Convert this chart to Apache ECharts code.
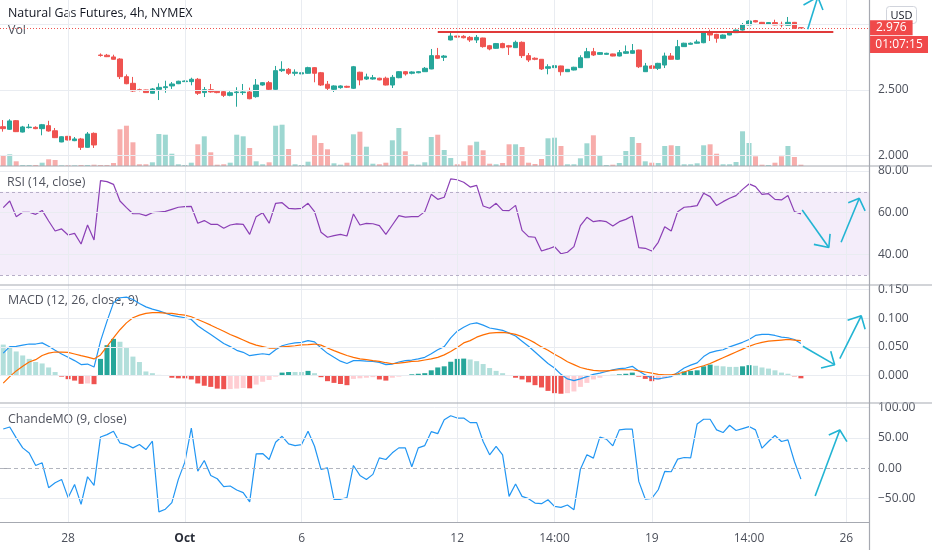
<!DOCTYPE html>
<html><head><meta charset="utf-8">
<script src="https://cdn.jsdelivr.net/npm/echarts@6/dist/echarts.min.js"></script>
<style>html,body{margin:0;padding:0;background:#fff;overflow:hidden}#c{width:932px;height:550px}</style>
</head><body><div id="c"></div><script>
// ---------- data ----------
const N = 134; // number of 4h slots on the time axis
const categories = Array.from({length: N}, (_, i) => i);
const tickIdx  = [10, 28, 46, 70, 85, 100, 115, 130];
const tickText = ['28', 'Oct', '6', '12', '14:00', '19', '14:00', '26'];

const open = [2.219,2.199,2.265,2.178,2.212,2.214,2.204,2.227,2.188,2.102,2.145,2.112,2.125,2.061,2.168,
2.768,2.766,2.753,2.737,2.602,2.551,2.502,2.500,2.475,2.505,2.518,2.531,2.548,2.564,2.564,
2.582,2.480,2.502,2.490,2.487,2.459,2.480,2.480,2.485,2.449,2.538,2.556,2.505,2.648,2.658,
2.628,2.623,2.628,2.671,2.632,2.544,2.505,2.518,2.528,2.513,2.636,2.584,2.584,2.590,2.590,
2.538,2.594,2.640,2.628,2.632,2.640,2.661,2.763,2.750,2.883,2.913,2.911,2.903,2.883,2.898,
2.839,2.819,2.855,2.839,2.824,2.865,2.763,2.743,2.735,2.666,2.671,2.684,2.640,2.653,2.671,
2.747,2.793,2.773,2.773,2.776,2.760,2.781,2.781,2.806,2.640,2.684,2.666,2.691,2.760,2.735,
2.832,2.850,2.858,2.862,2.939,2.926,2.896,2.921,2.939,2.959,2.998,3.031,3.018,3.003,3.016,
3.003,2.996,3.018,2.977];
const close = [2.204,2.263,2.181,2.217,2.216,2.204,2.234,2.186,2.135,2.142,2.117,2.125,2.061,2.163,2.079,
2.764,2.755,2.735,2.602,2.548,2.492,2.497,2.480,2.508,2.520,2.525,2.546,2.567,2.569,2.582,
2.475,2.502,2.485,2.480,2.459,2.479,2.485,2.485,2.433,2.538,2.556,2.505,2.648,2.658,2.628,
2.636,2.632,2.671,2.628,2.538,2.513,2.531,2.531,2.521,2.678,2.577,2.600,2.594,2.577,2.538,
2.597,2.640,2.623,2.638,2.640,2.666,2.763,2.743,2.760,2.913,2.905,2.900,2.883,2.903,2.832,
2.814,2.855,2.824,2.829,2.865,2.763,2.730,2.735,2.661,2.678,2.686,2.640,2.658,2.674,2.747,
2.793,2.768,2.786,2.781,2.760,2.786,2.793,2.801,2.678,2.684,2.666,2.704,2.760,2.735,2.832,
2.858,2.858,2.868,2.939,2.921,2.896,2.921,2.939,2.959,2.998,3.028,3.021,3.003,3.016,2.998,
2.998,3.018,2.972,2.976];
const high = [2.270,2.276,2.270,2.225,2.240,2.222,2.240,2.264,2.209,2.145,2.148,2.140,2.133,2.178,2.175,
2.780,2.776,2.770,2.743,2.619,2.600,2.510,2.502,2.515,2.551,2.571,2.561,2.571,2.573,2.594,
2.592,2.523,2.546,2.495,2.500,2.490,2.521,2.546,2.518,2.584,2.560,2.569,2.684,2.720,2.668,
2.658,2.640,2.678,2.676,2.638,2.569,2.536,2.536,2.533,2.684,2.640,2.625,2.615,2.594,2.602,
2.615,2.645,2.645,2.643,2.645,2.676,2.814,2.822,2.768,2.946,2.915,2.920,2.913,2.921,2.900,
2.845,2.860,2.862,2.845,2.878,2.872,2.783,2.750,2.737,2.697,2.704,2.686,2.661,2.678,2.766,
2.822,2.822,2.790,2.785,2.778,2.806,2.841,2.852,2.808,2.707,2.690,2.708,2.786,2.783,2.883,
2.862,2.864,2.885,2.952,2.962,2.930,2.925,2.943,2.962,3.013,3.035,3.036,3.021,3.019,3.038,
3.023,3.059,3.021,2.980];
const low = [2.181,2.194,2.178,2.175,2.205,2.200,2.153,2.181,2.132,2.100,2.114,2.108,2.041,2.058,2.056,
2.755,2.752,2.733,2.584,2.544,2.485,2.490,2.478,2.473,2.423,2.479,2.508,2.545,2.562,2.536,
2.462,2.446,2.479,2.475,2.446,2.452,2.372,2.462,2.429,2.441,2.533,2.500,2.502,2.638,2.615,
2.609,2.615,2.625,2.559,2.531,2.500,2.485,2.510,2.515,2.508,2.536,2.577,2.579,2.574,2.535,
2.515,2.590,2.610,2.620,2.628,2.638,2.659,2.737,2.722,2.880,2.900,2.895,2.868,2.860,2.824,
2.804,2.815,2.820,2.768,2.822,2.745,2.714,2.728,2.653,2.620,2.668,2.610,2.638,2.650,2.669,
2.745,2.760,2.770,2.770,2.758,2.757,2.776,2.777,2.668,2.638,2.663,2.653,2.668,2.733,2.730,
2.830,2.847,2.855,2.858,2.875,2.862,2.893,2.919,2.936,2.955,2.995,3.018,3.000,3.000,2.996,
2.980,2.993,2.969,2.973];
const volumeK = [10,11.7,4.7,1,1,1,3.3,6.7,6,0.7, 0.7,0.7,1,1,1.3,1,1,3,36.7,40.3,
23.7,1.7,1.7,3.7,32,31.3,12.3,1.7,1,3.3, 21.7,29.7,13.7,1.3,1.7,3.3,31.3,29.7,18,4.7,
1.7,3.7,40.3,41.3,17,1.7,1,4.3,30.7,23, 16.7,2.7,1.3,3.3,31.7,34.3,19.3,2.3,1.7,3.3,
25.7,38,14.7,1.7,1.3,3.7,29,31.3,16,8, 1.7,4.7,20.7,24.3,15.7,2.3,1.7,3,21.7,21.7,
19,3.3,2,7,27.7,28.3,20,1.7,1.7,7.7, 22.7,30.7,10,1,1.3,3,15,29,23,4.7,
3.3,3,20,20.7,20,1.7,1.7,2.7,20.7,21.7, 12.3,1.7,1.7,4,34.7,23,9.7,1.3,1,3.3,
9.7,20,9,1.3];
const rsi = [62.4,65.6,58.1,60.2,60.2,59.2,61.1,56,51.2,52.2, 49.3,50.1,45,54.1,46.9,75.4,74.9,73.6,65.6,62.4,
59.5,59.5,58.6,60,60.3,60.6,61.6,62.6,62.9,63, 54.9,56.2,54.4,54.4,52.5,54.1,54.6,54.4,49.6,58.1,
60,54.9,64.5,64.8,62.1,61.8,62.1,64.5,60.5,50.6, 48.2,49,49.6,48.8,59.4,54.1,54.9,54.7,53.8,49.6,
54.1,58.6,57.9,58.1,58.1,60.5,68.8,66.4,67.4,76.2, 75.8,74.6,72.3,73.1,63.2,62.1,64.5,61.1,61,63.5,
51.5,48.5,48.2,41.6,42.6,43.7,40.3,41,43.7,53.8, 57.8,55.7,56.2,55.7,53.6,55.7,56.8,58.4,43.2,42.9,
41.6,45.8,53.3,51.2,60.5,62.6,62.9,63.4,69.3,67.7, 63.4,65.3,66.9,68.2,71.2,73.8,72.5,68.8,69.1,66.4,
66.1,68.2,60.5,59.4];
const macd = [0.039,0.0505,0.051,0.053,0.055,0.055,0.057,0.051,0.044,0.0376, 0.032,0.026,0.019,0.020,0.0147,0.060,0.095,0.127,0.136,0.137,
0.133,0.126,0.120,0.116,0.113,0.109,0.105,0.103,0.101,0.098, 0.087,0.079,0.0716,0.064,0.056,0.0505,0.044,0.0405,0.0346,0.0364,
0.038,0.0364,0.045,0.052,0.055,0.057,0.058,0.061,0.0587,0.048, 0.0387,0.0317,0.025,0.021,0.026,0.026,0.025,0.0246,0.023,0.019,
0.020,0.0235,0.026,0.027,0.029,0.0317,0.038,0.045,0.0505,0.0657, 0.0775,0.0845,0.090,0.092,0.088,0.083,0.081,0.079,0.074,0.069,
0.060,0.051,0.041,0.031,0.021,0.013,0.002,-0.006,-0.009,-0.006, -0.002,0.002,0.004,0.007,0.010,0.012,0.013,0.016,0.008,0.001,
-0.005,-0.006,-0.004,-0.002,0.005,0.013,0.018,0.022,0.033,0.040, 0.043,0.045,0.050,0.054,0.058,0.063,0.070,0.072,0.072,0.070,
0.067,0.066,0.063,0.056];
const signal = [-0.0135,-0.002,0.008,0.016,0.0235,0.0276,0.035,0.039,0.041,0.041, 0.0405,0.0376,0.0346,0.032,0.029,0.036,0.051,0.0657,0.080,0.092,
0.101,0.1056,0.1086,0.110,0.110,0.109,0.1086,0.107,0.1056,0.1027, 0.098,0.093,0.088,0.0827,0.0775,0.0716,0.067,0.062,0.057,0.053,
0.0505,0.048,0.048,0.050,0.051,0.052,0.0534,0.054,0.055,0.053, 0.048,0.0434,0.039,0.035,0.0317,0.029,0.0276,0.026,0.0246,0.0223,
0.0205,0.0217,0.023,0.0246,0.025,0.027,0.029,0.0317,0.036,0.042, 0.049,0.057,0.061,0.067,0.071,0.074,0.075,0.0755,0.074,0.072,
0.068,0.063,0.057,0.050,0.044,0.037,0.031,0.024,0.019,0.014, 0.011,0.009,0.008,0.008,0.009,0.010,0.010,0.010,0.008,0.006,
0.004,0.002,0.001,0.001,0.003,0.006,0.010,0.014,0.017,0.021, 0.026,0.031,0.036,0.041,0.046,0.051,0.055,0.058,0.060,0.061,
0.062,0.063,0.062,0.061];
const histogram = [0.054,0.050,0.042,0.035,0.029,0.0235,0.021,0.014,0.006,-0.002, -0.0065,-0.009,-0.0147,-0.014,-0.0153,0.029,0.053,0.064,0.059,0.048,
0.033,0.0235,0.007,0.004,0.001,-0.001,-0.004,-0.005,-0.005,-0.007, -0.014,-0.018,-0.020,-0.023,-0.024,-0.0238,-0.023,-0.022,-0.0225,-0.016,
-0.011,-0.008,-0.002,0.005,0.006,0.006,0.006,0.008,0.004,-0.003, -0.010,-0.013,-0.015,-0.017,-0.006,-0.005,-0.004,-0.003,-0.007,-0.009,
-0.004,-0.002,-0.001,0.002,0.003,0.004,0.009,0.014,0.016,0.024, 0.029,0.0295,0.028,0.025,0.020,0.013,0.008,0.004,-0.001,-0.004,
-0.007,-0.012,-0.017,-0.021,-0.027,-0.031,-0.032,-0.031,-0.028,-0.020, -0.013,-0.007,-0.004,-0.001,0.001,0.002,0.003,0.005,-0.002,-0.006,
-0.010,-0.008,-0.005,-0.002,0.002,0.007,0.008,0.009,0.016,0.019, 0.017,0.016,0.015,0.015,0.016,0.018,0.017,0.014,0.012,0.009,
0.005,0.003,-0.0015,-0.005];
const chande = [64.8,68,50,33.5,25,4.4,8.8,-32.4,-24.2,-18.7, -48.9,-27,-60,-14.3,-28.6,51.6,55.4,61,41.7,39,
33.5,39,30.7,44.5,-72.5,-68,-57,-18.7,9.9,66.4, -4.9,12.6,-12.1,-17.6,-30.7,-29.6,-36.2,-40.6,-56,23.6,
24.1,14.3,42.8,52.7,40.1,37.3,39,61,36.2,-2.2, 0.5,-51.6,-51.6,-48.9,4.4,-12.1,-18.7,-10.4,17,14.3,
25.3,33.5,33.5,2.2,33.5,37.3,60.4,57.1,80.1,86.7, 82.9,82.9,75.3,75.3,44,22,35.8,22,-46.8,-26.4,
-46.8,-50.6,-57.8,-58.9,-52.3,-63.3,-64.9,-61,-68.8,-1.7, 22,16.5,51.2,47.9,36.9,63.3,64.4,64.4,-22,-51.2,
-50,-35.8,-5.5,-6,14.9,17.6,17,73.2,80.9,80.9, 63.3,58.9,71,62.2,65.5,68.8,63.3,33,44,53.9,
44,46.8,11,-18.2];

// drawn annotations: [slot, value]
const resistance = [[67, 2.948], [128, 2.948]];
const priceArrowShaft = [[124.05, 2.965], [125.6, 3.212]];
const priceArrowHead  = [[123.4, 3.151], [125.6, 3.212], [126.4, 3.113]];
const rsiArrowDownShaft = [[123.2, 61.3], [127.3, 43.3]];
const rsiArrowDownHead  = [[125.0, 44.8], [127.3, 43.3], [127.5, 49.8]];
const rsiArrowUpShaft   = [[129.2, 45.8], [132.0, 66.9]];
const rsiArrowUpHead    = [[130.3, 64.8], [132.0, 66.9], [132.9, 60.9]];
const macdArrowDownShaft = [[123.3, 0.0512], [128.2, 0.0189]];
const macdArrowDownHead  = [[127.6, 0.0424], [128.2, 0.0189], [126.1, 0.0131]];
const macdArrowUpShaft   = [[129.0, 0.0295], [132.3, 0.1044]];
const macdArrowUpHead    = [[130.2, 0.0965], [132.3, 0.1044], [132.9, 0.0807]];
const cmoArrowShaft = [[125.2, -46.2], [129.0, 63.1]];
const cmoArrowHead  = [[127.3, 54.8], [129.0, 63.1], [130.1, 43.9]];

const priceTicks = [2.0, 2.5, 3.0];
const priceLabels = [2.0, 2.5];
const rsiTicks = [40, 60, 80];
const macdTicks = [0, 0.05, 0.1, 0.15];
const cmoTicks = [-50, 0, 50, 100];
const lastPrice = close[close.length - 1];

// ---------- style ----------
const FONT = 'Open Sans';
const UP = '#26a69a', DOWN = '#ef5350';
const GRIDC = '#e9ecf1';
const TXT = '#4c505b';
const ARROW = '#22b4d3';
const SEP = '#a6a9b1';

const chart = echarts.init(document.getElementById('c'));

const grids = [
  {left: 0, right: 63, top: 0, height: 166},
  {left: 0, right: 63, top: 166, height: 119},
  {left: 0, right: 63, top: 285, height: 118},
  {left: 0, right: 63, top: 403, height: 119}
];

const xCat = grids.map((g, gi) => ({
  type: 'category', gridIndex: gi, data: categories, boundaryGap: true,
  axisLine: {show: false}, axisTick: {show: false}, splitLine: {show: false},
  axisLabel: gi === 3 ? {
    show: true, interval: (idx) => tickIdx.indexOf(idx) >= 0, margin: 11, hideOverlap: false,
    color: TXT, fontSize: 12, fontFamily: FONT,
    formatter: (v) => { const k = tickIdx.indexOf(Number(v)); if (k < 0) return ''; return tickText[k] === 'Oct' ? '{b|Oct}' : tickText[k]; },
    rich: {b: {fontWeight: 'bold', color: '#2a2e39', fontSize: 12, fontFamily: FONT}}
  } : {show: false}
}));
const xVal = grids.map((g, gi) => ({type: 'value', gridIndex: gi, min: -0.5, max: N - 0.5, show: false}));

function yAx(gi, min, max, ticks, labels, fmt) {
  return {
    type: 'value', gridIndex: gi, position: 'right', min, max, scale: true,
    splitLine: {show: false}, axisLine: {show: false},
    axisTick: {show: true, length: 4, customValues: labels, lineStyle: {color: SEP}},
    axisLabel: {show: true, customValues: labels, formatter: fmt, color: TXT, fontSize: 12, fontFamily: FONT, margin: 9}
  };
}
const minus = (s) => s.replace('-', '\u2212');
const yAxes = [
  yAx(0, 1.918, 3.189, priceTicks, priceLabels, v => v.toFixed(3)),
  {type: 'value', gridIndex: 0, min: 0, max: 166, show: false},
  yAx(1, 25.3, 82.4, rsiTicks, rsiTicks, v => v.toFixed(2)),
  yAx(2, -0.0482, 0.1583, macdTicks, macdTicks, v => minus(v.toFixed(3))),
  yAx(3, -89.2, 107.8, cmoTicks, cmoTicks, v => minus(v.toFixed(2)))
];

function gridLines(gi, yi, ys) {
  return {
    type: 'line', xAxisIndex: gi, yAxisIndex: yi, data: [], silent: true, z: 0,
    markLine: {
      silent: true, symbol: ['none', 'none'], label: {show: false}, animation: false,
      lineStyle: {color: GRIDC, width: 1, type: 'solid'},
      data: ys.map(v => ({yAxis: v})).concat(tickIdx.map(i => ({xAxis: i})))
    }
  };
}
function arrow(gi, yi, pts) {
  return {type: 'line', xAxisIndex: 4 + gi, yAxisIndex: yi, data: pts, symbol: 'none', silent: true, z: 10,
    lineStyle: {color: ARROW, width: 1.6}, clip: true};
}
function histColor(i) {
  const h = histogram[i], p = i > 0 ? histogram[i - 1] : Infinity;
  if (h >= 0) return p < h ? '#26a69a' : '#b2dfdb';
  return p < h ? '#ffcdd2' : '#ef5350';
}

const series = [
  gridLines(0, 0, priceTicks),
  gridLines(1, 2, rsiTicks),
  gridLines(2, 3, macdTicks),
  gridLines(3, 4, [-50, 50, 100]),
  {
    type: 'bar', xAxisIndex: 0, yAxisIndex: 1, barWidth: 5, silent: true, z: 1,
    data: volumeK.map((v, i) => ({value: v, itemStyle: {color: close[i] >= open[i] ? 'rgba(38,166,154,0.45)' : 'rgba(239,83,80,0.48)'}}))
  },
  {
    type: 'candlestick', xAxisIndex: 0, yAxisIndex: 0, barWidth: 5, z: 3,
    data: open.map((o, i) => [o, close[i], low[i], high[i]]),
    itemStyle: {color: UP, color0: DOWN, borderColor: UP, borderColor0: DOWN, borderWidth: 1},
    markLine: {
      silent: true, symbol: ['none', 'none'], animation: false, precision: 3,
      data: [
        {yAxis: lastPrice, lineStyle: {color: DOWN, width: 1, type: [1, 2]},
         label: {show: true, position: 'end', distance: 1, formatter: lastPrice.toFixed(3), color: '#fff',
           backgroundColor: '#f0494a', padding: [2, 6, 1, 6], fontSize: 12, fontFamily: FONT}},
        [{coord: resistance[0], lineStyle: {color: '#e03a3a', width: 2, type: 'solid'}, label: {show: false}},
         {coord: resistance[1]}]
      ]
    }
  },
  arrow(0, 0, priceArrowShaft), arrow(0, 0, priceArrowHead),
  {
    type: 'line', xAxisIndex: 1, yAxisIndex: 2, data: rsi, symbol: 'none', z: 3,
    lineStyle: {color: '#8b3fb5', width: 1.2},
    markArea: {silent: true, itemStyle: {color: 'rgba(150,80,210,0.1)'}, data: [[{yAxis: 30}, {yAxis: 70}]]},
    markLine: {silent: true, symbol: ['none', 'none'], label: {show: false}, animation: false,
      lineStyle: {color: '#b7aec8', width: 1, type: [3, 3]}, data: [{yAxis: 70}, {yAxis: 30}]}
  },
  arrow(1, 2, rsiArrowDownShaft), arrow(1, 2, rsiArrowDownHead),
  arrow(1, 2, rsiArrowUpShaft), arrow(1, 2, rsiArrowUpHead),
  {
    type: 'bar', xAxisIndex: 2, yAxisIndex: 3, barWidth: 5, silent: true, z: 2,
    data: histogram.map((v, i) => ({value: v, itemStyle: {color: histColor(i)}}))
  },
  {type: 'line', xAxisIndex: 2, yAxisIndex: 3, data: macd, symbol: 'none', z: 3, lineStyle: {color: '#2196f3', width: 1.2}},
  {type: 'line', xAxisIndex: 2, yAxisIndex: 3, data: signal, symbol: 'none', z: 3, lineStyle: {color: '#ff6d00', width: 1.2}},
  arrow(2, 3, macdArrowDownShaft), arrow(2, 3, macdArrowDownHead),
  arrow(2, 3, macdArrowUpShaft), arrow(2, 3, macdArrowUpHead),
  {
    type: 'line', xAxisIndex: 3, yAxisIndex: 4, data: chande, symbol: 'none', z: 3,
    lineStyle: {color: '#2196f3', width: 1.2},
    markLine: {silent: true, symbol: ['none', 'none'], label: {show: false}, animation: false,
      lineStyle: {color: '#b2b5be', width: 1, type: [4, 3]}, data: [{yAxis: 0}]}
  },
  arrow(3, 4, cmoArrowShaft), arrow(3, 4, cmoArrowHead)
];

const titleFont = (w) => w + ' 12.4px "Open Sans"';
const graphic = [
  {type: 'text', left: 8, top: 7, style: {text: 'Natural Gas Futures, 4h, NYMEX', font: titleFont('normal'), fill: '#131722'}},
  {type: 'text', left: 8, top: 24, style: {text: 'Vol', font: titleFont('normal'), fill: '#50535e'}},
  {type: 'text', left: 7, top: 176, style: {text: 'RSI (14, close)', font: titleFont('normal'), fill: '#50535e'}},
  {type: 'text', left: 8, top: 294, style: {text: 'MACD (12, 26, close, 9)', font: titleFont('normal'), fill: '#50535e'}},
  {type: 'text', left: 8, top: 413, style: {text: 'ChandeMO (9, close)', font: titleFont('normal'), fill: '#50535e'}},
  // pane separators and price-scale border
  {type: 'line', silent: true, z: 50, shape: {x1: 0, y1: 166, x2: 932, y2: 166}, style: {stroke: SEP, lineWidth: 1.2}},
  {type: 'line', silent: true, z: 50, shape: {x1: 0, y1: 285, x2: 932, y2: 285}, style: {stroke: SEP, lineWidth: 1.2}},
  {type: 'line', silent: true, z: 50, shape: {x1: 0, y1: 403, x2: 932, y2: 403}, style: {stroke: SEP, lineWidth: 1.2}},
  {type: 'line', silent: true, z: 50, shape: {x1: 0, y1: 522.5, x2: 869.5, y2: 522.5}, style: {stroke: SEP, lineWidth: 1.2}},
  {type: 'line', silent: true, z: 50, shape: {x1: 869.5, y1: 0, x2: 869.5, y2: 550}, style: {stroke: SEP, lineWidth: 1.2}},
  // currency box
  {type: 'group', left: 886, top: 6, z: 60, children: [
    {type: 'rect', shape: {x: 0, y: 0, width: 30, height: 17, r: 3}, style: {fill: '#fff', stroke: '#d1d4dc', lineWidth: 1}},
    {type: 'text', x: 15, y: 9, style: {text: 'USD', font: '11px "Open Sans"', fill: '#131722', align: 'center', verticalAlign: 'middle'}}
  ]},
  // bar countdown
  {type: 'group', left: 870, top: 36, z: 60, children: [
    {type: 'rect', shape: {x: 0, y: 0, width: 58, height: 17}, style: {fill: '#f0494a'}},
    {type: 'text', x: 29, y: 9, style: {text: '01:07:15', font: '12px "Open Sans"', fill: '#fff', align: 'center', verticalAlign: 'middle'}}
  ]}
];

chart.setOption({
  animation: false,
  backgroundColor: '#ffffff',
  grid: grids,
  xAxis: xCat.concat(xVal),
  yAxis: yAxes,
  series,
  graphic
});
</script></body></html>
